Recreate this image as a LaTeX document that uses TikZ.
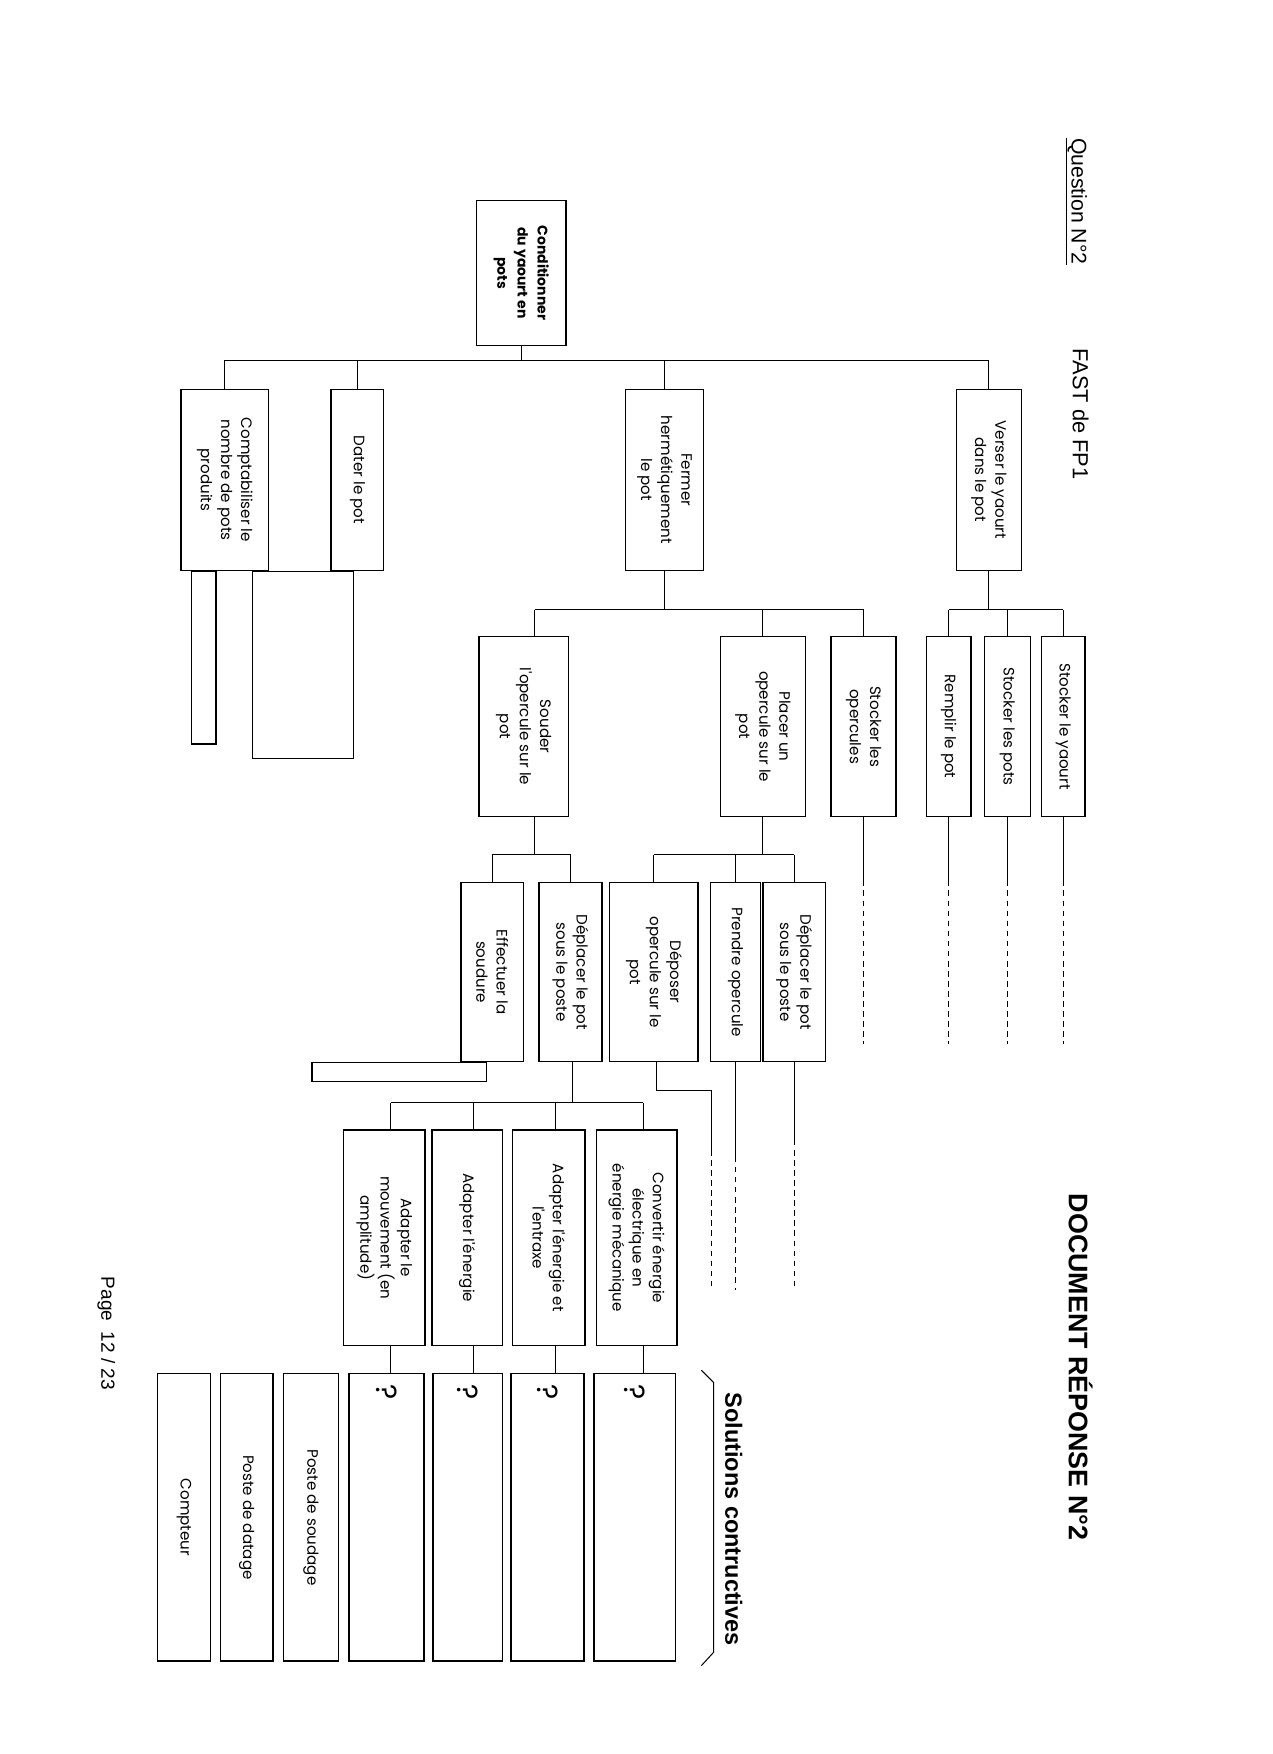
\documentclass[tikz,border=0pt]{standalone}
\usepackage{fontspec}
\setmainfont{Liberation Sans}
\newfontfamily\gothic{Poppins}
\usetikzlibrary{calc}
\begin{document}
\begin{tikzpicture}[x=1pt,y=-1pt,
  box/.style={draw, line width=1.3pt, rotate=-90, align=center, inner sep=2pt,
    font=\gothic\fontsize{13.5}{18}\selectfont},
  qbox/.style={draw, line width=1.3pt, rotate=-90, align=left, inner sep=4pt,
    text width=#1, font=\gothic\fontsize{26}{30}\selectfont},
  conn/.style={line width=0.9pt},
  boxl/.style={line width=1.1pt},
  dline/.style={line width=0.9pt, dash pattern=on 5pt off 4pt},
  lbl/.style={rotate=-90, inner sep=0pt}]
\useasboundingbox (0,0) rectangle (1138,1568);

% headers
\node[lbl, font=\fontsize{19}{23}\selectfont] (qn) at (962,180) {\underline{Question N°2}};
\node[lbl, font=\fontsize{19.5}{23}\selectfont] (fast) at (966,370) {FAST de FP1};
\node[lbl, font=\bfseries\fontsize{24}{28}\selectfont] (doc) at (966,1222) {DOCUMENT RÉPONSE N°2};
\node[lbl, font=\fontsize{17}{20}\selectfont] (page) at (95,1192) {Page\ \ 12 / 23};
\node[lbl, font=\bfseries\fontsize{21}{25}\selectfont] (sol) at (656,1358) {Solutions contructives};

% root
\node[box, minimum width=130pt, minimum height=80pt, font=\gothic\bfseries\fontsize{12.5}{18}\selectfont] (root) at (466,244) {Conditionner\\du yaourt en\\pots};

% level 1
\node[box, minimum width=162pt, minimum height=78pt] (comp) at (201,429) {Comptabiliser le\\nombre de pots\\produits};
\node[box, minimum width=162pt, minimum height=47pt] (dater) at (319.5,429) {Dater le pot};
\node[box, minimum width=162pt, minimum height=70pt] (fermer) at (594,429) {Fermer\\hermétiquement\\le pot};
\node[box, minimum width=162pt, minimum height=58pt] (verser) at (884,429) {Verser le yaourt\\dans le pot};

% level 2
\node[box, minimum width=161pt, minimum height=80pt] (souder) at (468,649.5) {Souder\\l'opercule sur le\\pot};
\node[box, minimum width=161pt, minimum height=76pt] (placer) at (682,649.5) {Placer un\\opercule sur le\\pot};
\node[box, minimum width=161pt, minimum height=58pt] (stockop) at (772,649.5) {Stocker les\\opercules};
\node[box, minimum width=161pt, minimum height=40pt] (remplir) at (848,649.5) {Remplir le pot};
\node[box, minimum width=161pt, minimum height=41pt] (stockpots) at (900.5,649.5) {Stocker les pots};
\node[box, minimum width=161pt, minimum height=39pt] (stockyaourt) at (950.5,649.5) {Stocker le yaourt};

% level 3
\node[box, minimum width=160pt, minimum height=56pt] (effectuer) at (440,869) {Effectuer la\\soudure};
\node[box, minimum width=160pt, minimum height=56pt] (deplS) at (510,869) {Déplacer le pot\\sous le poste};
\node[box, minimum width=160pt, minimum height=79pt] (deposer) at (584.5,869) {Déposer\\opercule sur le\\pot};
\node[box, minimum width=160pt, minimum height=45pt] (prendre) at (657.5,869) {Prendre opercule};
\node[box, minimum width=160pt, minimum height=56pt] (deplP) at (710,869) {Déplacer le pot\\sous le poste};

% level 4
\node[box, minimum width=193pt, minimum height=73pt] (mouv) at (343.5,1106.5) {Adapter le\\mouvement (en\\amplitude)};
\node[box, minimum width=193pt, minimum height=63pt] (adener) at (417.5,1106.5) {Adapter l'énergie};
\node[box, minimum width=193pt, minimum height=65pt] (adentr) at (490.5,1106.5) {Adapter l'énergie et\\l'entraxe};
\node[box, minimum width=193pt, minimum height=72pt] (convert) at (569,1106.5) {Convertir énergie\\électrique en\\énergie mécanique};

% solution boxes
\node[qbox=249pt, minimum height=67pt] (q1) at (345.5,1356.5) {\hspace{6pt}?};
\node[qbox=249pt, minimum height=62pt] (q2) at (418,1356.5) {\hspace{6pt}?};
\node[qbox=249pt, minimum height=65pt] (q3) at (489.5,1356.5) {\hspace{6pt}?};
\node[qbox=249pt, minimum height=73pt] (q4) at (567.5,1356.5) {\hspace{6pt}?};
\node[box, minimum width=257pt, minimum height=49.5pt] (soudage) at (278,1356.5) {Poste de soudage};
\node[box, minimum width=257pt, minimum height=47pt] (datage) at (220.5,1356.5) {Poste de datage};
\node[box, minimum width=257pt, minimum height=47.5pt] (compteur) at (164.5,1356.5) {Compteur};

% brace
\draw[conn] (627,1225) -- (638,1236) -- (638,1477) -- (627,1489);

% bus coordinates
\coordinate (b1) at (0,322);
\coordinate (b2) at (0,545);
\coordinate (b3) at (0,764);
\coordinate (b4) at (0,986);

% level 0 -> 1
\draw[conn] (root.east) -- (root.east |- b1);
\draw[conn] (comp.west |- b1) -- (verser.west |- b1);
\foreach \n in {comp,dater,fermer,verser} \draw[conn] (\n.west) -- (\n.west |- b1);

% verser -> level 2
\draw[conn] (verser.east) -- (verser.east |- b2);
\draw[conn] (remplir.west |- b2) -- (stockyaourt.west |- b2);
\foreach \n in {remplir,stockpots,stockyaourt} \draw[conn] (\n.west) -- (\n.west |- b2);

% fermer -> level 2
\coordinate (sw) at ($(souder.west)+(10,0)$);
\draw[conn] (fermer.east) -- (fermer.east |- b2);
\draw[conn] (sw |- b2) -- (stockop.west |- b2);
\draw[conn] (sw) -- (sw |- b2);
\foreach \n in {placer,stockop} \draw[conn] (\n.west) -- (\n.west |- b2);

% souder -> level 3
\coordinate (se) at ($(souder.east)+(10,0)$);
\draw[conn] (se) -- (se |- b3);
\draw[conn] (effectuer.west |- b3) -- (deplS.west |- b3);
\foreach \n in {effectuer,deplS} \draw[conn] (\n.west) -- (\n.west |- b3);

% placer -> level 3
\draw[conn] (placer.east) -- (placer.east |- b3);
\draw[conn] (deposer.west |- b3) -- (deplP.west |- b3);
\foreach \n in {deposer,prendre,deplP} \draw[conn] (\n.west) -- (\n.west |- b3);

% deplS -> level 4
\coordinate (dse) at ($(deplS.east)+(2,0)$);
\draw[conn] (dse) -- (dse |- b4);
\draw[conn] ($(mouv.west |- b4)+(6,0)$) -- ($(convert.west |- b4)+(6,0)$);
\foreach \n/\q in {mouv/q1,adener/q2,adentr/q3,convert/q4} {
  \draw[conn] ($(\n.west)+(6,0)$) -- ($(\n.west |- b4)+(6,0)$);
  \draw[conn] ($(\n.east)+(6,0)$) -- ($(\n.east |- \q.west)+(6,0)$);
}

% attached rectangles
\draw[boxl] (dater.east -| 226,0) rectangle (316,678);
\draw[boxl] (comp.east -| 171,0) rectangle (193,665);
\draw[boxl] (effectuer.east -| 279,0) rectangle (435,967);

% dashed continuations
\coordinate (ya) at (0,787);
\coordinate (yb) at (0,933);
\foreach \n in {remplir,stockpots,stockyaourt,stockop} {
  \draw[conn] (\n.east) -- (\n.east |- ya);
  \draw[dline] (\n.east |- ya) -- (\n.east |- yb);
}
\coordinate (yc) at (0,1153);
\coordinate (dpe) at ($(deposer.east)+(2,0)$);
\coordinate (dpc) at (636,975);
\coordinate (dps) at (0,1028);
\draw[conn] (dpe) |- (dpc) -- (dpc |- dps);
\draw[dline] (dpc |- dps) -- (dpc |- yc);
\coordinate (prs) at (0,1034);
\draw[conn] (prendre.east) -- (prendre.east |- prs);
\draw[dline] (prendre.east |- prs) -- (prendre.east |- yc);
\coordinate (dls) at (0,1019);
\draw[conn] (deplP.east) -- (deplP.east |- dls);
\draw[dline] (deplP.east |- dls) -- (deplP.east |- yc);
\end{tikzpicture}
\end{document}
